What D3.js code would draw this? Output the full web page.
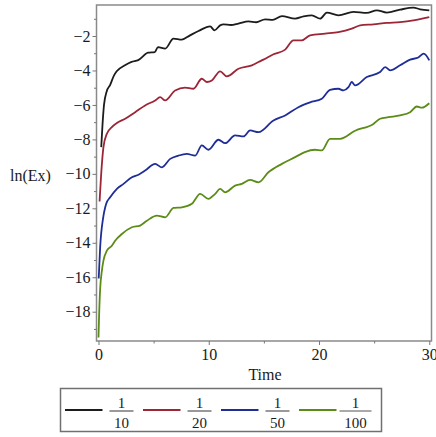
<!DOCTYPE html>
<html><head><meta charset="utf-8">
<script src="https://cdn.jsdelivr.net/npm/d3@7"></script>
<style>body{margin:0;background:#fff}svg{display:block}text{font-family:"Liberation Serif","DejaVu Serif",serif;fill:#1a1a1a}</style>
</head><body>
<svg id="c" width="436" height="437"></svg>
<script>
const legendLabels = [["1","10"],["1","20"],["1","50"],["1","100"]];
const colors = ["#1c1c1c","#9c2536","#1f2d97","#5b8c17"];
const xMajorTicks = [0,10,20,30];
const xMinorTicks = [5,15,25];
const yMajorTicks = [-2,-4,-6,-8,-10,-12,-14,-16,-18];
const yMinorTicks = [-1,-3,-5,-7,-9,-11,-13,-15,-17,-19];

const tBlack = [0.25,0.36,0.5,0.75,1.05,1.4,1.65,2.4,3.0,3.6,4.5,5.1,5.4,6.05,6.8,7.55,8.3,9.07,10.13,10.52,11.03,11.33,12.0,12.69,13.6,14.3,15.11,15.8,16.63,17.83,18.6,19.35,20.1,20.71,21.76,23.12,24.33,25.24,26.15,27.35,28.56,29.17,30.0];
const vBlack = [-8.45,-7.2,-6.0,-5.2,-4.85,-4.3,-4.05,-3.7,-3.5,-3.4,-2.97,-2.93,-2.64,-2.73,-2.15,-2.21,-1.96,-1.71,-1.44,-1.67,-1.38,-1.32,-1.36,-1.28,-1.15,-1.2,-1.03,-1.06,-0.85,-0.99,-0.86,-0.80,-0.99,-0.64,-0.80,-0.60,-0.66,-0.51,-0.64,-0.47,-0.35,-0.45,-0.51];

const tRed = [0.1,0.31,0.45,0.76,1.21,1.67,2.42,3.33,4.23,5.14,5.59,6.05,6.95,7.86,8.61,9.37,9.83,10.28,11.03,11.64,12.69,13.91,14.51,14.96,15.87,16.93,17.68,18.44,19.19,20.55,21.76,22.97,23.73,24.93,26.15,27.35,28.56,30.0];
const vRed = [-11.6,-9.42,-8.45,-7.67,-7.29,-7.05,-6.80,-6.42,-6.03,-5.74,-5.55,-5.74,-5.16,-5.0,-5.06,-4.48,-4.67,-4.58,-4.05,-4.34,-3.90,-3.70,-3.51,-3.37,-3.06,-2.79,-2.25,-2.25,-1.96,-1.86,-1.77,-1.57,-1.38,-1.32,-1.24,-1.19,-1.09,-0.90];

const tBlue = [0.02,0.15,0.43,0.61,0.7,1.06,1.67,2.27,3.03,3.63,4.23,5.14,5.75,6.5,7.25,8.01,8.77,9.37,9.97,10.88,11.49,12.39,13.15,13.75,14.51,15.87,16.93,18.13,19.19,20.25,21.0,21.76,22.21,22.67,22.97,23.27,24.33,25.54,26.0,26.45,27.35,28.26,29.0,29.5,30.0];
const vBlue = [-16.07,-14.27,-12.52,-11.94,-11.73,-11.36,-10.87,-10.58,-10.20,-10.05,-9.81,-9.42,-9.62,-9.13,-8.94,-8.84,-8.94,-8.35,-8.60,-8.02,-8.22,-7.77,-7.83,-7.48,-7.58,-6.90,-6.61,-6.13,-5.85,-5.64,-5.12,-5.06,-5.16,-4.97,-4.67,-4.87,-4.38,-4.09,-3.80,-3.99,-3.70,-3.37,-3.25,-3.02,-3.41];

const tGreen = [0.0,0.06,0.15,0.31,0.45,0.76,1.21,1.51,2.12,3.03,3.78,4.39,5.29,6.05,6.8,7.56,8.47,9.22,9.97,10.58,11.03,11.49,12.39,13.0,13.75,14.51,15.41,16.63,17.83,18.71,19.62,20.25,21.0,21.91,23.27,24.93,25.54,26.29,27.35,28.26,28.87,29.32,30.0];
const vGreen = [-19.5,-18.14,-16.69,-15.62,-15.04,-14.46,-14.17,-13.88,-13.49,-13.10,-13.0,-12.72,-12.42,-12.52,-11.98,-11.94,-11.74,-11.16,-11.45,-11.16,-10.87,-11.07,-10.68,-10.58,-10.35,-10.49,-9.91,-9.42,-9.03,-8.74,-8.60,-8.64,-7.97,-7.97,-7.5,-7.1,-6.80,-6.71,-6.61,-6.42,-6.09,-6.16,-5.90];

const series = [[tBlack,vBlack],[tRed,vRed],[tBlue,vBlue],[tGreen,vGreen]];

const svg = d3.select("#c");
const L=96.5, R=431.5, T=5, B=341;
const x = d3.scaleLinear().domain([-0.18,30.2]).range([L,R]);
const y = d3.scaleLinear().domain([-19.7,-0.2]).range([B,T]);
const FONT = '"Liberation Serif",serif';

// frame
svg.append("rect").attr("x",L).attr("y",T).attr("width",R-L).attr("height",B-T)
  .attr("fill","none").attr("stroke","#8a8a8a").attr("stroke-width",1.5);

// y axis
const yAx = svg.append("g").attr("transform",`translate(${L},0)`)
  .call(d3.axisLeft(y).tickValues(yMajorTicks).tickSize(4).tickPadding(2)
    .tickFormat(d=>"\u2212"+Math.abs(d)));
yAx.select(".domain").remove();
yAx.selectAll("line").attr("stroke","#777");
yAx.selectAll("text").attr("font-size",16).attr("fill","#1a1a1a").style("font-family",FONT);
const yMin = svg.append("g").attr("transform",`translate(${L},0)`)
  .call(d3.axisLeft(y).tickValues(yMinorTicks).tickSize(2.5).tickFormat(""));
yMin.select(".domain").remove();
yMin.selectAll("line").attr("stroke","#777");

// x axis
const xAx = svg.append("g").attr("transform",`translate(0,${B})`)
  .call(d3.axisBottom(x).tickValues(xMajorTicks).tickSize(4).tickPadding(4).tickFormat(d3.format("d")));
xAx.select(".domain").remove();
xAx.selectAll("line").attr("stroke","#777");
xAx.selectAll("text").attr("font-size",16).attr("fill","#1a1a1a").style("font-family",FONT);
const xMin = svg.append("g").attr("transform",`translate(0,${B})`)
  .call(d3.axisBottom(x).tickValues(xMinorTicks).tickSize(2.5).tickFormat(""));
xMin.select(".domain").remove();
xMin.selectAll("line").attr("stroke","#777");

// axis labels
svg.append("text").attr("x",10).attr("y",181).attr("font-size",16).text("ln(Ex)");
svg.append("text").attr("x",265).attr("y",380).attr("font-size",16).attr("text-anchor","middle").text("Time");

// lines
svg.append("clipPath").attr("id","pc").append("rect")
  .attr("x",L).attr("y",T).attr("width",R-L).attr("height",B-T);
const line = d3.line().x(d=>x(d[0])).y(d=>y(d[1])).curve(d3.curveMonotoneX);
series.forEach((s,i)=>{
  const pts = s[0].map((t,j)=>[t,s[1][j]]);
  svg.append("path").attr("d",line(pts)).attr("fill","none")
    .attr("stroke",colors[i]).attr("stroke-width",1.8).attr("stroke-linejoin","round")
    .attr("clip-path","url(#pc)");
});

// legend
svg.append("rect").attr("x",60.5).attr("y",388.5).attr("width",321).attr("height",43)
  .attr("fill","none").attr("stroke","#707070").attr("stroke-width",1.5);
const legX = d3.scaleBand().domain(d3.range(4)).range([64,376]);
legendLabels.forEach((lab,i)=>{
  const x0 = legX(i);
  svg.append("line").attr("x1",x0+1).attr("x2",x0+38.5).attr("y1",410).attr("y2",410)
    .attr("stroke",colors[i]).attr("stroke-width",2);
  const cx = x0+57.5;
  const w = lab[1].length>2 ? 32 : 24;
  svg.append("text").attr("x",cx).attr("y",407.5).attr("font-size",15).attr("text-anchor","middle").text(lab[0]);
  svg.append("line").attr("x1",cx-w/2).attr("x2",cx+w/2).attr("y1",411).attr("y2",411).attr("stroke","#555").attr("stroke-width",1.2);
  svg.append("text").attr("x",cx).attr("y",427.5).attr("font-size",15).attr("text-anchor","middle").text(lab[1]);
});
</script>
</body></html>
